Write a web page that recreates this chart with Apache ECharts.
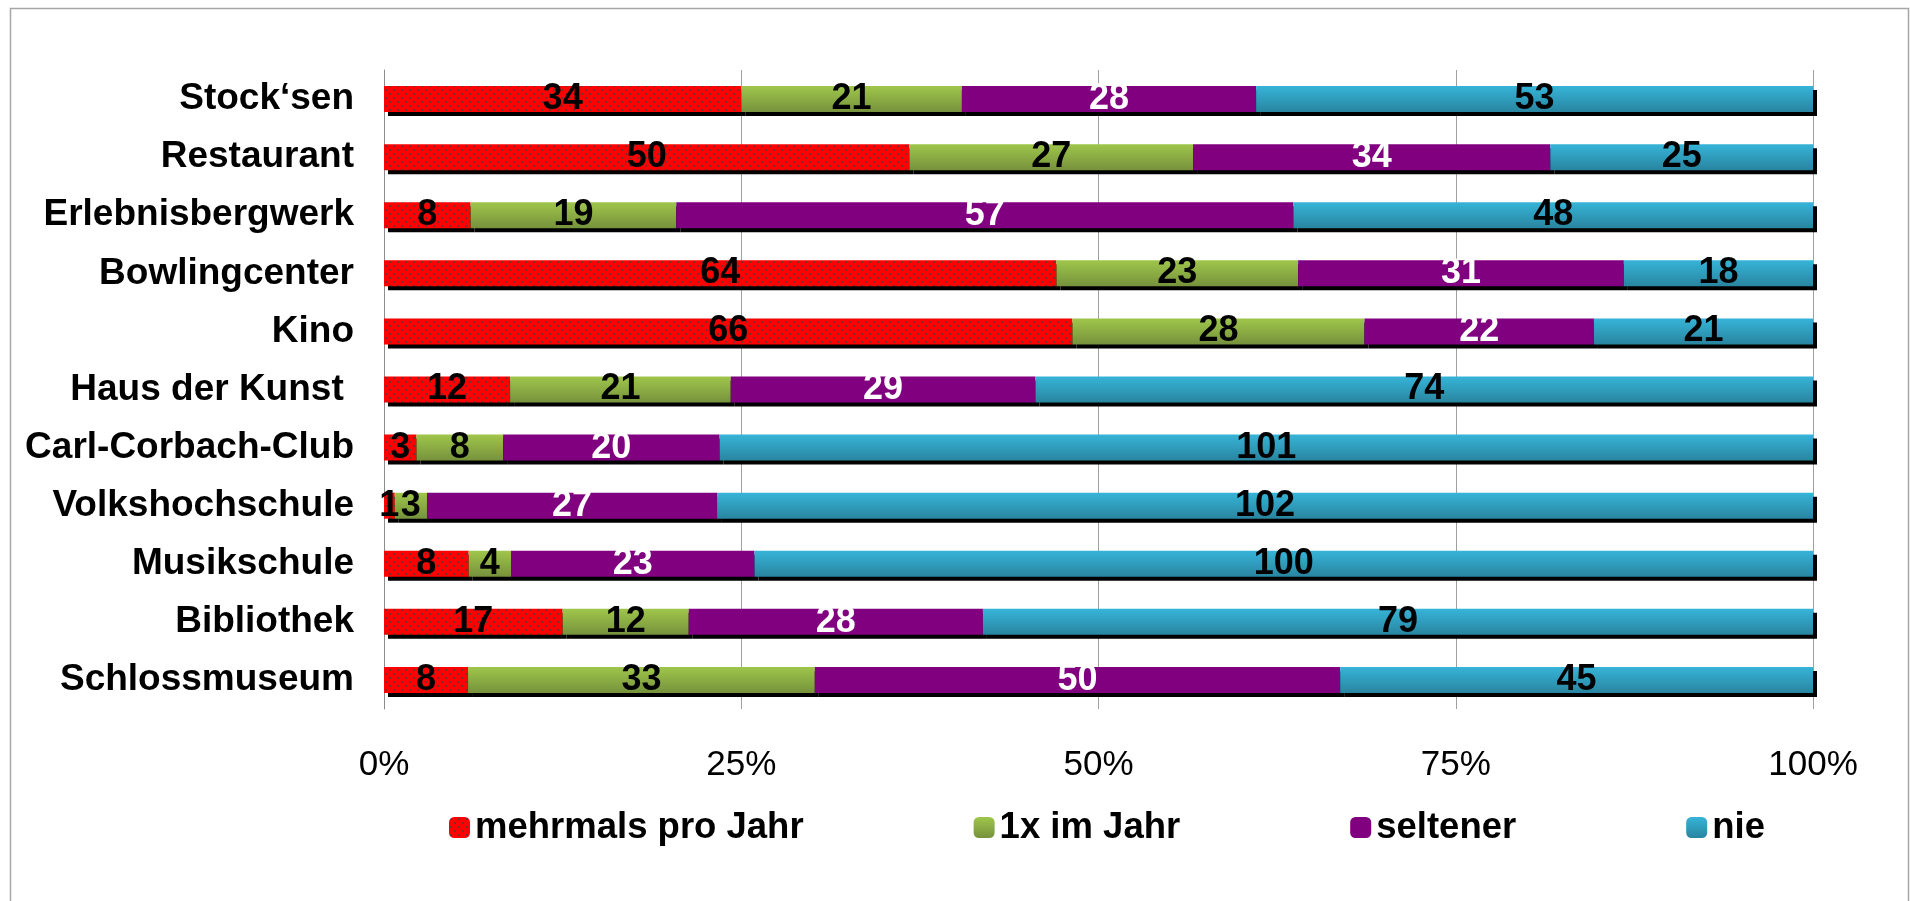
<!DOCTYPE html>
<html lang="de">
<head>
<meta charset="utf-8">
<title>Freizeitangebote</title>
<script src="https://cdn.jsdelivr.net/npm/echarts@6/dist/echarts.min.js"></script>
<style>
  html, body { margin: 0; padding: 0; background: #fff; }
  #chart { width: 1910px; height: 901px; }
</style>
</head>
<body>
<div id="chart"></div>
<script>
const categories = [
  "Stock‘sen", "Restaurant", "Erlebnisbergwerk", "Bowlingcenter", "Kino",
  "Haus der Kunst ", "Carl-Corbach-Club", "Volkshochschule", "Musikschule",
  "Bibliothek", "Schlossmuseum",
];
const seriesNames = ["mehrmals pro Jahr", "1x im Jahr", "seltener", "nie"];
const mehrmalsProJahr = [34, 50, 8, 64, 66, 12, 3, 1, 8, 17, 8];
const einmalImJahr = [21, 27, 19, 23, 28, 21, 8, 3, 4, 12, 33];
const seltener = [28, 34, 57, 31, 22, 29, 20, 27, 23, 28, 50];
const nie = [53, 25, 48, 18, 21, 74, 101, 102, 100, 79, 45];
const tickLabels = ["0%", "25%", "50%", "75%", "100%"];

const FONT = '"Liberation Sans", Arial, sans-serif';

const totals = categories.map(
  (_, i) => mehrmalsProJahr[i] + einmalImJahr[i] + seltener[i] + nie[i],
);

// red fill with the small dark dot raster
const makeDotPattern = () => {
  const canvas = document.createElement("canvas");
  canvas.width = 8;
  canvas.height = 8;
  const ctx = canvas.getContext("2d");
  ctx.fillStyle = "#ff0000";
  ctx.fillRect(0, 0, 8, 8);
  ctx.fillStyle = "#7d2c2c";
  ctx.fillRect(1, 1, 2, 2);
  ctx.fillRect(5, 5, 2, 2);
  return canvas;
};

const verticalGradient = (top, bottom) =>
  new echarts.graphic.LinearGradient(0, 0, 0, 1, [
    { offset: 0, color: top },
    { offset: 1, color: bottom },
  ]);

const buildSeries = (name, counts, color, labelColor) => ({
  name,
  type: "bar",
  stack: "total",
  barWidth: 26,
  data: counts.map((count, i) => (count / totals[i]) * 100),
  itemStyle: {
    color,
    shadowColor: "#000",
    shadowOffsetX: 4,
    shadowOffsetY: 4,
    shadowBlur: 0,
  },
  label: {
    show: true,
    position: "inside",
    color: labelColor,
    fontFamily: FONT,
    fontSize: 36,
    fontWeight: "bold",
    textBorderWidth: 0,
    formatter: (params) => String(counts[params.dataIndex]),
  },
  emphasis: { disabled: true },
});

const chart = echarts.init(document.getElementById("chart"), null, {
  renderer: "canvas",
});

chart.setOption({
  animation: false,
  backgroundColor: "#fff",
  graphic: [
    {
      type: "rect",
      silent: true,
      shape: { x: 10.5, y: 8.5, width: 1898, height: 1000 },
      style: { fill: "none", stroke: "#a6a6a6", lineWidth: 1.5 },
    },
  ],
  grid: { left: 384, top: 70, width: 1429, height: 639 },
  legend: {
    data: seriesNames,
    left: 444,
    top: 804,
    itemWidth: 21,
    itemHeight: 21,
    itemGap: 170,
    itemStyle: { shadowColor: "transparent", shadowOffsetX: 0, shadowOffsetY: 0 },
    textStyle: {
      color: "#000",
      fontFamily: FONT,
      fontSize: 36.5,
      fontWeight: "bold",
    },
  },
  xAxis: {
    type: "value",
    min: 0,
    max: 100,
    interval: 25,
    axisLine: { show: false },
    axisTick: { show: false },
    splitLine: { lineStyle: { color: "#a0a0a0", width: 1 } },
    axisLabel: {
      color: "#000",
      fontFamily: FONT,
      fontSize: 35,
      margin: 39,
      formatter: (value) => tickLabels[Math.round(value / 25)],
    },
  },
  yAxis: {
    type: "category",
    data: categories,
    inverse: true,
    axisLine: { lineStyle: { color: "#8c8c8c", width: 1 } },
    axisTick: { length: 9, lineStyle: { color: "#8c8c8c" } },
    axisLabel: {
      color: "#000",
      fontFamily: FONT,
      fontSize: 37,
      fontWeight: "bold",
      margin: 30,
    },
  },
  series: [
    buildSeries(seriesNames[0], mehrmalsProJahr, { image: makeDotPattern(), repeat: "repeat" }, "#000"),
    buildSeries(seriesNames[1], einmalImJahr, verticalGradient("#9fc64b", "#76923c"), "#000"),
    buildSeries(seriesNames[2], seltener, "#800080", "#fff"),
    buildSeries(seriesNames[3], nie, verticalGradient("#36b4d8", "#2985a0"), "#000"),
  ],
});
</script>
</body>
</html>
